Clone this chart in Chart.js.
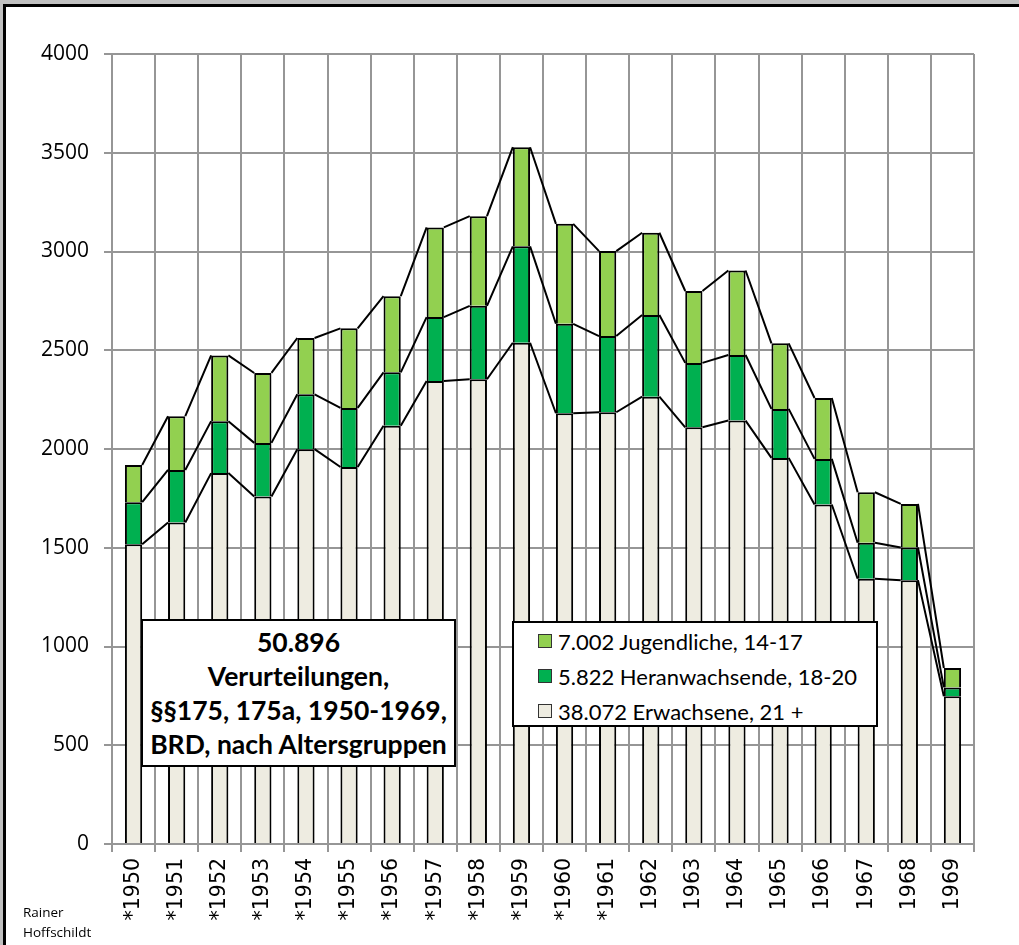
<!DOCTYPE html>
<html>
<head>
<meta charset="utf-8">
<script src="https://cdn.jsdelivr.net/npm/chart.js@4.4.0/dist/chart.umd.min.js"></script>
<style>
  html, body { margin: 0; padding: 0; }
  body { width: 1019px; height: 945px; background: #c0c0c0; position: relative; overflow: hidden; }
  #frame { position: absolute; left: 3px; top: 4px; right: 0; bottom: 0; background: #fff;
           border-left: 3px solid #000; border-top: 3px solid #000; }
  #chartBox { position: absolute; left: 0; top: 0; width: 1019px; height: 945px; }
  #titleBox { position: absolute; left: 141px; top: 619px; width: 311px; height: 144px;
              border: 2px solid #000; background: #fff; text-align: center;
              font: bold 26.5px Lato, sans-serif; line-height: 34px; color: #000;
              display: flex; flex-direction: column; justify-content: center; }
  #legendBox { position: absolute; left: 512px; top: 621px; width: 362px; height: 102px;
               border: 2px solid #000; background: #fff; }
  .item { position: absolute; left: 24px; height: 24px; font: 22px Lato, sans-serif; color: #000;
          display: flex; align-items: center; white-space: nowrap; }
  .swatch { width: 12px; height: 12px; border: 1.5px solid #333; margin-right: 6px; }
  #author { position: absolute; left: 23px; top: 902px; font: 13.5px "Open Sans", sans-serif;
            line-height: 20px; color: #000; }
</style>
</head>
<body>
<div id="frame"></div>
<div id="chartBox"><canvas id="verurteilungen" width="1019" height="945"></canvas></div>
<div id="titleBox">
  <div>50.896</div>
  <div>Verurteilungen,</div>
  <div>§§175, 175a, 1950-1969,</div>
  <div>BRD, nach Altersgruppen</div>
</div>
<div id="legendBox"></div>
<div id="author">Rainer<br>Hoffschildt</div>

<script>
// ------------------------------
//  Daten
// ------------------------------
const years = ["*1950", "*1951", "*1952", "*1953", "*1954", "*1955", "*1956", "*1957", "*1958", "*1959",
               "*1960", "*1961", "1962", "1963", "1964", "1965", "1966", "1967", "1968", "1969"];

const erwachsene = [1518, 1628, 1878, 1759, 1999, 1909, 2118, 2344, 2353, 2538,
                    2181, 2186, 2265, 2110, 2144, 1955, 1719, 1343, 1336, 748];
const heranwachsende = [213, 266, 263, 272, 278, 299, 270, 324, 372, 488,
                        453, 386, 413, 326, 332, 248, 231, 182, 165, 45];
const jugendliche = [188, 272, 333, 354, 285, 403, 386, 454, 454, 502,
                     506, 430, 417, 364, 428, 332, 308, 256, 221, 98];

const seriesNames = ["38.072 Erwachsene, 21 +", "5.822 Heranwachsende, 18-20", "7.002 Jugendliche, 14-17"];
const seriesColors = ["#EEECE1", "#00B050", "#92D050"];

const yTicks = [0, 500, 1000, 1500, 2000, 2500, 3000, 3500, 4000];

const GRID = "#969696";

// ------------------------------
//  Verbindungslinien zwischen den Säulen
// ------------------------------
const seriesLines = {
  id: "seriesLines",
  afterDatasetsDraw(chart) {
    const ctx = chart.ctx;
    ctx.save();
    ctx.strokeStyle = "#000";
    ctx.lineWidth = 2;
    chart.data.datasets.forEach((ds, i) => {
      const bars = chart.getDatasetMeta(i).data;
      ctx.beginPath();
      for (let j = 0; j < bars.length - 1; j++) {
        const a = bars[j], b = bars[j + 1];
        ctx.moveTo(a.x + a.width / 2, a.y);
        ctx.lineTo(b.x - b.width / 2, b.y);
      }
      ctx.stroke();
    });
    ctx.restore();
  }
};

// ------------------------------
//  Diagramm
// ------------------------------
const ctx = document.getElementById("verurteilungen").getContext("2d");
const data = [erwachsene, heranwachsende, jugendliche];

const chart = new Chart(ctx, {
  type: "bar",
  data: {
    labels: years,
    datasets: data.map((values, i) => ({
      label: seriesNames[i],
      data: values,
      backgroundColor: seriesColors[i],
      borderColor: "#000",
      borderWidth: 2,
      categoryPercentage: 1,
      barPercentage: 0.4
    }))
  },
  options: {
    responsive: false,
    animation: false,
    layout: { padding: { top: 54, right: 45, left: 0, bottom: 0 } },
    plugins: { legend: { display: false }, tooltip: { enabled: false } },
    scales: {
      x: {
        stacked: true,
        grid: { color: GRID, lineWidth: 2, tickLength: 8, offset: true },
        border: { color: GRID, width: 2 },
        ticks: {
          color: "#000",
          font: { family: "DejaVu Sans", size: 20.5 },
          minRotation: 90, maxRotation: 90,
          autoSkip: false, padding: 6
        },
        afterFit: s => { s.height = 945 - 844; }
      },
      y: {
        stacked: true,
        min: 0, max: 4000,
        afterBuildTicks: s => { s.ticks = yTicks.map(v => ({ value: v })); },
        grid: { color: GRID, lineWidth: 2, tickLength: 8 },
        border: { color: GRID, width: 2 },
        ticks: {
          color: "#000",
          font: { family: "Open Sans", size: 21 },
          padding: 15,
          callback: v => String(v)
        },
        afterFit: s => { s.width = 112; }
      }
    }
  },
  plugins: [seriesLines]
});

// ------------------------------
//  Legende (umgekehrte Reihenfolge wie im Original)
// ------------------------------
const legendBox = document.getElementById("legendBox");
[2, 1, 0].forEach((i, row) => {
  const item = document.createElement("div");
  item.className = "item";
  item.style.top = (6 + row * 35) + "px";
  const sw = document.createElement("span");
  sw.className = "swatch";
  sw.style.background = seriesColors[i];
  item.appendChild(sw);
  item.appendChild(document.createTextNode(seriesNames[i]));
  legendBox.appendChild(item);
});
</script>
</body>
</html>
